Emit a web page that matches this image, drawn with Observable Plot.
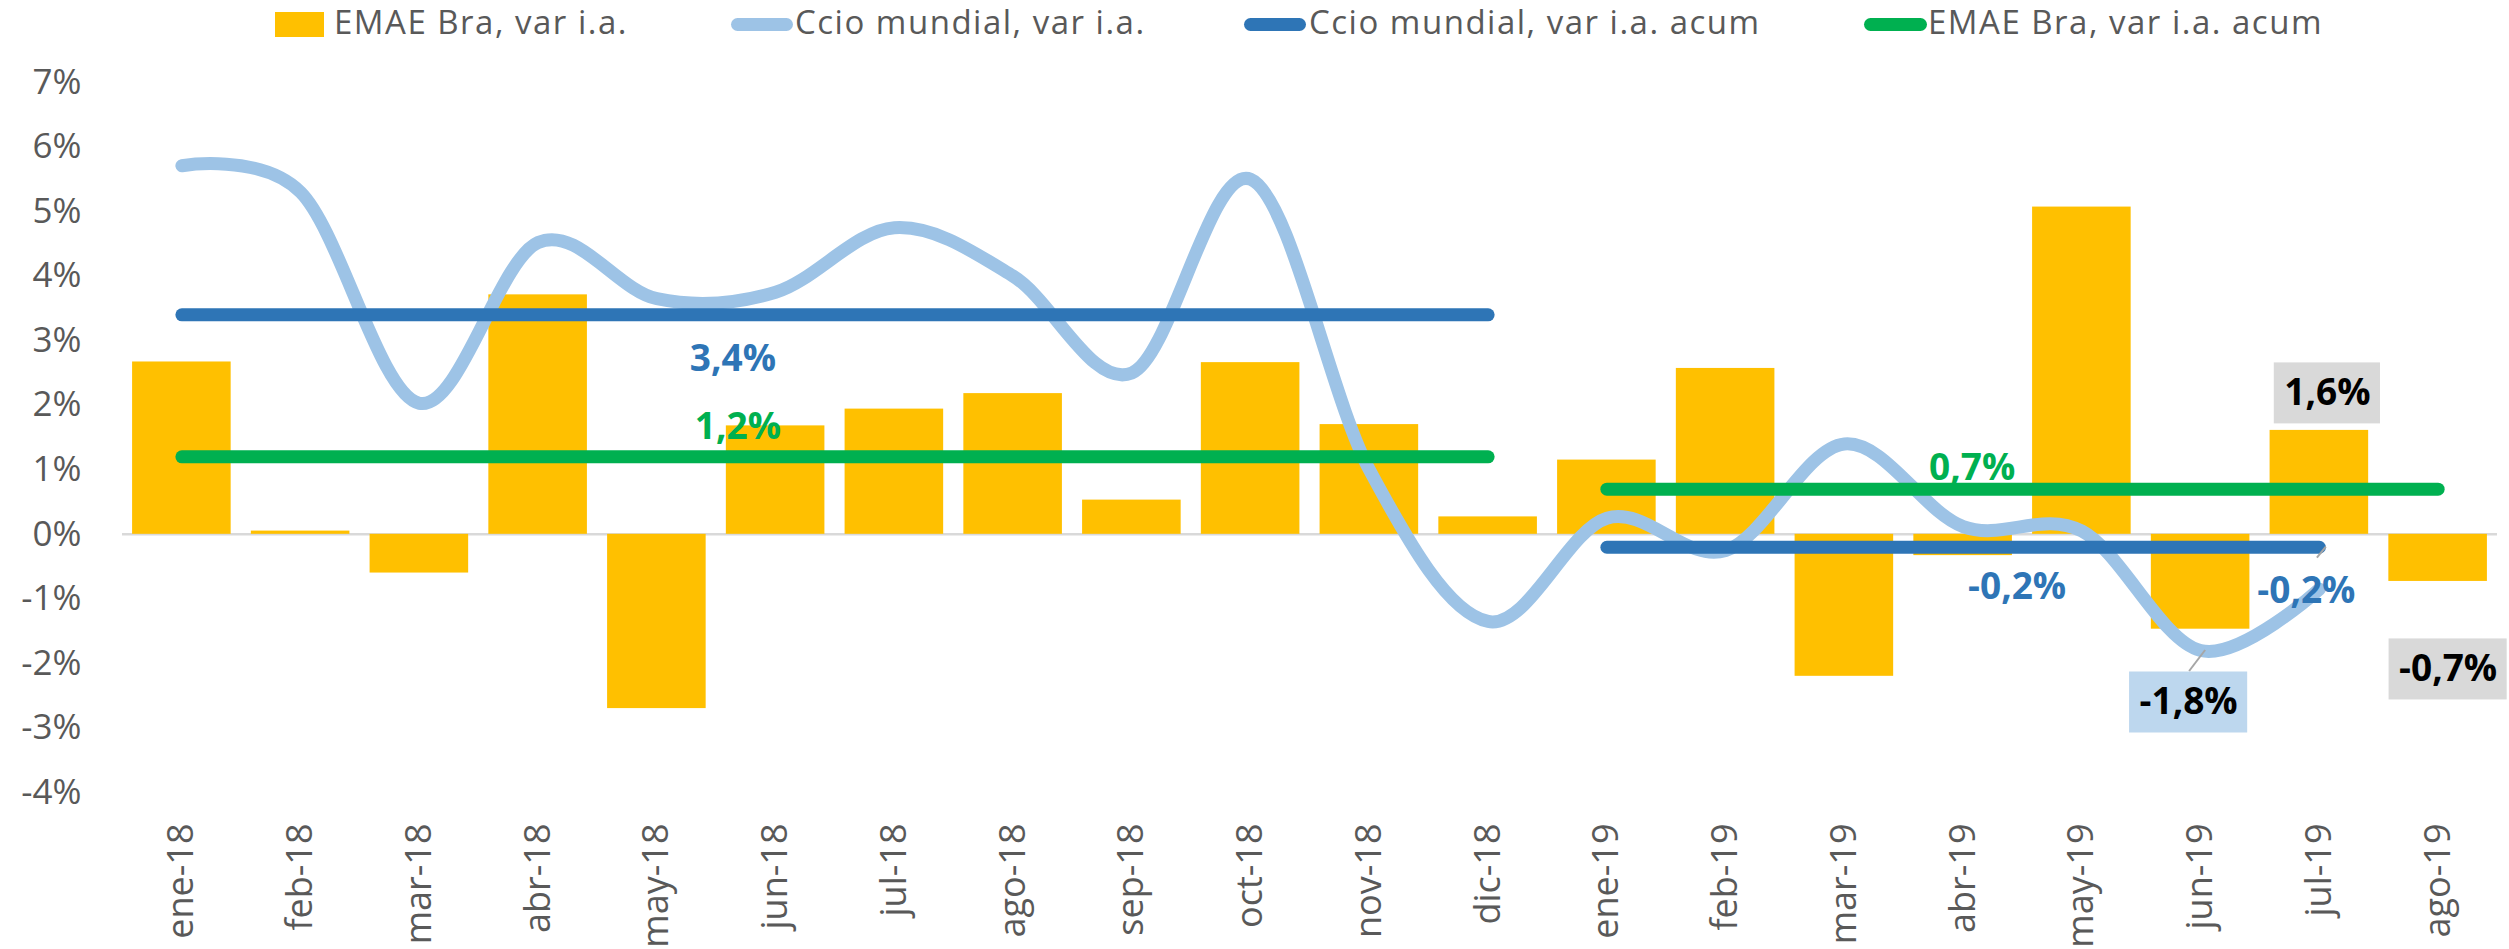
<!DOCTYPE html>
<html><head><meta charset="utf-8">
<script src="https://cdn.jsdelivr.net/npm/d3@7"></script>
<script src="https://cdn.jsdelivr.net/npm/@observablehq/plot@0.6"></script>
<style>
body{margin:0;background:#fff;font-family:"Open Sans",sans-serif;}
#wrap{position:relative;width:2509px;height:949px;overflow:hidden;background:#fff;}
#legend{position:relative;height:50px;width:2509px;}
.lg{position:absolute;font-size:33px;color:#595959;letter-spacing:1.5px;line-height:33px;top:5px;white-space:nowrap;}
.sw{position:absolute;}
</style></head><body>
<div id="wrap"><div id="legend"></div><div id="chart"></div></div>
<script>
// ---- data ----
const months = ["ene-18","feb-18","mar-18","abr-18","may-18","jun-18","jul-18","ago-18","sep-18","oct-18","nov-18","dic-18",
                "ene-19","feb-19","mar-19","abr-19","may-19","jun-19","jul-19","ago-19"];
const emae = [2.67,0.05,-0.6,3.71,-2.7,1.68,1.94,2.18,0.53,2.66,1.70,0.27,1.15,2.57,-2.2,-0.33,5.07,-1.47,1.61,-0.73];
const ccio = [5.71,5.3,2.03,4.52,3.65,3.75,4.75,4.0,2.5,5.5,1.0,-1.35,0.25,-0.25,1.4,0.12,0.05,-1.8,-0.85,null];
const acumStart = ["ene-18","ene-19"];
const ccioAcumEnd = ["dic-18","jul-19"];
const emaeAcumEnd = ["dic-18","ago-19"];
const ccioAcum = [3.4,-0.2];
const emaeAcum = [1.2,0.7];
const yTicks = [-4,-3,-2,-1,0,1,2,3,4,5,6,7];
const seriesNames = ["EMAE Bra, var i.a.","Ccio mundial, var i.a.","Ccio mundial, var i.a. acum","EMAE Bra, var i.a. acum"];

// ---- colours ----
const C_BAR="#ffc000", C_CCIO="#9dc3e6", C_CCIOAC="#2e75b6", C_EMAEAC="#00b050";

const idx = m => months.indexOf(m);
const fmt = v => v.toFixed(1).replace(".", ",") + "%";
const table = months.map((m,i)=>({m, i, emae: emae[i], ccio: ccio[i]}));
const ccioSeg = acumStart.map((s,k)=>({i1: idx(s), i2: idx(ccioAcumEnd[k]), v: ccioAcum[k]}));
const emaeSeg = acumStart.map((s,k)=>({i1: idx(s), i2: idx(emaeAcumEnd[k]), v: emaeAcum[k]}));

// label specs (anchor month + value); pixel offsets are given in the mark calls
const labels = [];
function lab(month, value, dx, dy, fill, box){
  labels.push({month, value, dx, dy, box});
  return Plot.text([{i: idx(month), v: value}], {x:"i", y:"v", text: d=>fmt(d.v), dx, dy,
    fill, fontWeight:"bold", fontSize:37, lineAnchor:"middle", textAnchor:"middle"});
}

// ---- legend ----
const legend = document.getElementById("legend");
legend.innerHTML = `
<div class="sw" style="left:275px;top:12px;width:49px;height:25px;background:${C_BAR}"></div>
<div class="lg" style="left:334px">${seriesNames[0]}</div>
<div class="sw" style="left:731px;top:18px;width:62px;height:13px;border-radius:7px;background:${C_CCIO}"></div>
<div class="lg" style="left:795px">${seriesNames[1]}</div>
<div class="sw" style="left:1244px;top:18px;width:62px;height:13px;border-radius:7px;background:${C_CCIOAC}"></div>
<div class="lg" style="left:1309px">${seriesNames[2]}</div>
<div class="sw" style="left:1864px;top:18px;width:63px;height:13px;border-radius:7px;background:${C_EMAEAC}"></div>
<div class="lg" style="left:1928px">${seriesNames[3]}</div>`;

// ---- chart ----
const labelMarks = [
  lab("may-18", ccioAcum[0], 76, 44, C_CCIOAC),
  lab("may-18", emaeAcum[0], 81, -30, C_EMAEAC),
  lab("abr-19", emaeAcum[1], 9, -21, C_EMAEAC),
  lab("abr-19", ccioAcum[1], 54, 40, C_CCIOAC),
  lab("jul-19", ccioAcum[1], -13, 44, C_CCIOAC),
  lab("jul-19", emae[idx("jul-19")], 8, -37, "#000", "#d9d9d9"),
  lab("ago-19", emae[idx("ago-19")], 10, 88, "#000", "#d9d9d9"),
  lab("jun-19", ccio[idx("jun-19")], -12, 52, "#000", "#bdd7ee")
];
const plot = Plot.plot({
  width: 2509, height: 899,
  marginLeft: 122, marginRight: 12, marginTop: 32, marginBottom: 157,
  style: {fontFamily: "'Open Sans', sans-serif", color: "#595959", background: "#fff"},
  x: {type: "linear", domain: [-0.5, months.length - 0.5]},
  y: {domain: [-4, 7]},
  marks: [
    Plot.ruleY([0], {stroke: "#d9d9d9", strokeWidth: 2.5}),
    Plot.rectY(table, {x1: d=>d.i-0.415, x2: d=>d.i+0.415, y1: 0, y2: "emae", fill: C_BAR}),
    Plot.lineY(table.filter(d=>d.ccio!=null), {x: "i", y: "ccio", stroke: C_CCIO, strokeWidth: 13,
      curve: "cardinal", strokeLinecap: "round", strokeLinejoin: "round"}),
    Plot.link(ccioSeg, {x1: "i1", x2: "i2", y1: "v", y2: "v", stroke: C_CCIOAC, strokeWidth: 13, strokeLinecap: "round"}),
    Plot.link(emaeSeg, {x1: "i1", x2: "i2", y1: "v", y2: "v", stroke: C_EMAEAC, strokeWidth: 13, strokeLinecap: "round"}),
    Plot.axisY({ticks: yTicks, tickFormat: d => d + "%", tickSize: 0, tickPadding: 41, fontSize: 35, label: null}),
    Plot.axisX({ticks: d3.range(months.length), tickFormat: i => months[i], tickRotate: -90,
      tickSize: 0, tickPadding: 31, fontSize: 36, label: null}),
    ...labelMarks
  ]
});
document.getElementById("chart").appendChild(plot);

const NS = "http://www.w3.org/2000/svg";
const sx = plot.scale("x"), sy = plot.scale("y");

// boxes behind data labels, placed through the chart's scales
const canvas = document.createElement("canvas").getContext("2d");
canvas.font = "bold 37px 'Open Sans'";
const boxG = document.createElementNS(NS, "g");
labels.filter(l => l.box).forEach(l => {
  const cx = sx.apply(idx(l.month)) + l.dx, cy = sy.apply(l.value) + l.dy;
  const w = canvas.measureText(fmt(l.value)).width + 20;
  const r = document.createElementNS(NS, "rect");
  r.setAttribute("x", cx - w/2); r.setAttribute("width", w);
  r.setAttribute("y", cy - 30.5); r.setAttribute("height", 61);
  r.setAttribute("fill", l.box);
  boxG.appendChild(r);
});
const kids = plot.children;
plot.insertBefore(boxG, kids[kids.length - labelMarks.length]);

// leader lines
function leader(month, value, ox1, oy1, ox2, oy2){
  const x = sx.apply(idx(month)), y = sy.apply(value);
  const l = document.createElementNS(NS, "line");
  l.setAttribute("x1", x+ox1); l.setAttribute("y1", y+oy1);
  l.setAttribute("x2", x+ox2); l.setAttribute("y2", y+oy2);
  l.setAttribute("stroke", "#a6a6a6"); l.setAttribute("stroke-width", 2);
  plot.appendChild(l);
}
leader("jun-19", ccio[idx("jun-19")], 5, 0, -11, 21);
leader("jul-19", ccioAcum[1], 7, 0, -2, 11);
</script>
</body></html>
